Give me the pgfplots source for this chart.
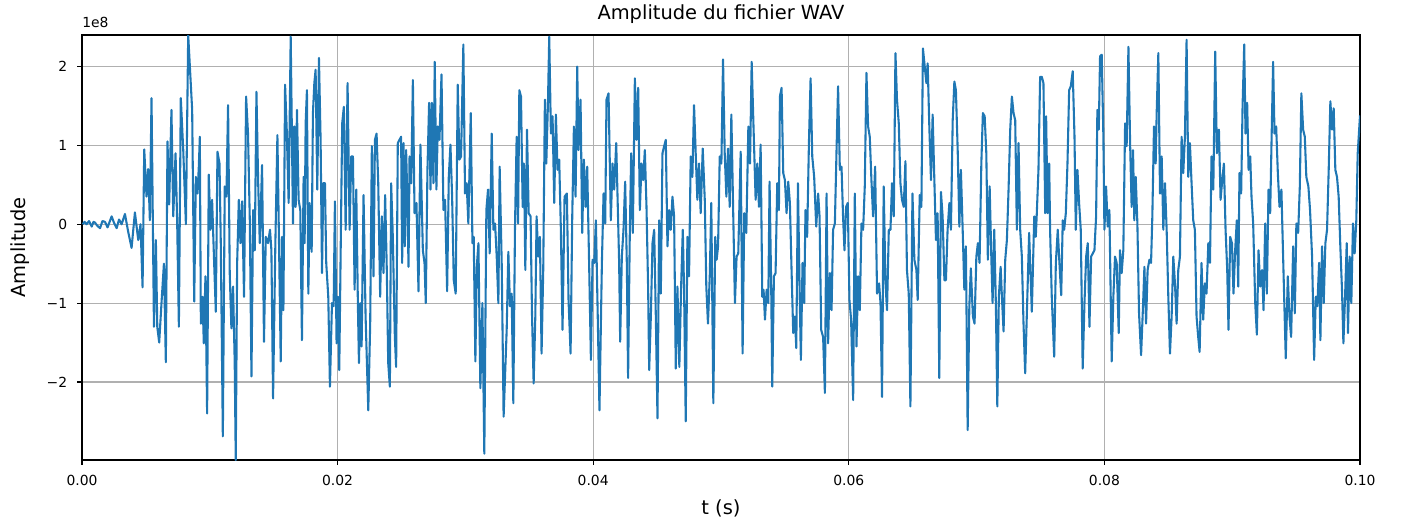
\documentclass[border=0pt]{standalone}
\usepackage{fontspec}
\setmainfont{DejaVu Sans}
\usepackage{pgfplots}
\pgfplotsset{compat=1.18}
\definecolor{mplblue}{HTML}{1F77B4}
\definecolor{mplgrid}{HTML}{B0B0B0}

\begin{document}
\begin{tikzpicture}
\begin{axis}[
  scale only axis, width=920.16pt, height=306pt,
  xmin=0, xmax=0.1, ymin=-2.99, ymax=2.40,
  xtick={0,0.02,0.04,0.06,0.08,0.1},
  xticklabels={0.00,0.02,0.04,0.06,0.08,0.10},
  ytick={-2,-1,0,1,2},
  yticklabels={−2,−1,0,1,2},
  tick pos=left, tick align=outside, major tick length=3.5pt,
  tick style={black, line width=0.8pt},
  axis line style={line width=0.8pt},
  grid=major, major grid style={mplgrid, line width=0.8pt},
  font=\fontsize{10}{12}\selectfont,
  xticklabel style={anchor=north, inner sep=0pt, yshift=-7pt},
  yticklabel style={anchor=east, inner sep=0pt, xshift=-7pt},
  xlabel={t (s)},
  xlabel style={at={(axis description cs:0.5,-0.1129)}, anchor=center, inner sep=0pt, font=\fontsize{14}{16}\selectfont},
  ylabel={Amplitude},
  ylabel style={at={(axis description cs:-0.0485,0.5)}, anchor=center, inner sep=0pt, font=\fontsize{14}{16}\selectfont},
]
\addplot[mplblue, line width=1.5pt, line join=round, mark=none] table {
t a
0.00005 0.00
0.00020 0.03
0.00036 0.00
0.00055 0.04
0.00076 -0.03
0.00090 0.03
0.00102 0.02
0.00120 -0.02
0.00141 -0.05
0.00160 0.04
0.00180 0.03
0.00200 -0.04
0.00232 0.10
0.00250 0.02
0.00271 -0.05
0.00290 0.06
0.00310 0.00
0.00336 0.13
0.00362 -0.10
0.00388 -0.30
0.00414 0.15
0.00440 -0.20
0.00458 0.00
0.00474 -0.80
0.00487 0.95
0.00505 0.35
0.00518 0.70
0.00531 0.05
0.00544 1.60
0.00563 -1.30
0.00578 -0.20
0.00589 -1.30
0.00604 -1.50
0.00622 -1.00
0.00641 -0.50
0.00656 -1.75
0.00669 1.05
0.00682 0.25
0.00700 1.45
0.00714 0.10
0.00732 0.90
0.00745 0.00
0.00758 -1.30
0.00773 1.60
0.00792 0.95
0.00813 0.00
0.00831 2.40
0.00862 1.45
0.00878 -0.98
0.00891 0.60
0.00904 0.39
0.00914 0.73
0.00922 1.11
0.00930 -1.26
0.00943 -0.92
0.00953 -1.51
0.00966 -0.66
0.00979 -2.40
0.00992 0.63
0.01005 -0.07
0.01018 0.31
0.01034 -0.49
0.01047 -1.11
0.01060 0.92
0.01076 0.77
0.01086 -0.24
0.01102 -2.69
0.01117 0.48
0.01130 0.35
0.01143 1.51
0.01156 -0.62
0.01169 -1.32
0.01182 -0.79
0.01195 -1.76
0.01203 -2.99
0.01214 -0.49
0.01227 0.31
0.01240 -0.24
0.01253 0.29
0.01268 -0.92
0.01284 1.62
0.01299 1.15
0.01313 0.05
0.01326 -1.93
0.01339 0.18
0.01352 -0.33
0.01365 1.68
0.01378 0.56
0.01391 -0.24
0.01409 0.75
0.01424 -1.49
0.01438 -0.16
0.01456 -0.24
0.01471 -0.07
0.01482 -0.33
0.01495 -2.21
0.01513 -0.24
0.01529 1.13
0.01542 -0.28
0.01555 -1.74
0.01565 -0.16
0.01576 -1.09
0.01589 1.77
0.01602 1.20
0.01617 0.27
0.01633 2.38
0.01651 0.01
0.01661 1.24
0.01672 0.22
0.01682 1.45
0.01695 0.31
0.01708 0.18
0.01721 -1.47
0.01734 0.60
0.01742 -0.24
0.01750 1.28
0.01760 1.70
0.01771 -0.88
0.01781 0.27
0.01797 -0.35
0.01807 1.41
0.01818 1.79
0.01828 1.96
0.01841 0.44
0.01854 2.11
0.01867 1.07
0.01878 -0.62
0.01888 0.52
0.01901 0.52
0.01911 -0.49
0.01927 -0.92
0.01940 -2.06
0.01956 -1.00
0.01969 -1.04
0.01979 0.29
0.01992 -1.51
0.02003 -0.92
0.02013 -1.85
0.02026 -0.07
0.02036 1.28
0.02049 1.49
0.02063 -0.07
0.02078 1.79
0.02094 -0.07
0.02107 0.86
0.02120 0.86
0.02133 -0.83
0.02146 0.44
0.02159 -1.04
0.02167 -1.76
0.02177 -1.00
0.02188 -1.55
0.02203 0.37
0.02219 -1.17
0.02240 -2.36
0.02255 -1.26
0.02268 0.99
0.02281 -0.66
0.02292 1.07
0.02305 1.15
0.02318 0.52
0.02333 -0.92
0.02346 0.10
0.02359 -0.62
0.02372 0.37
0.02385 -0.58
0.02396 -1.76
0.02409 -2.06
0.02419 0.52
0.02432 -0.16
0.02448 -1.43
0.02458 -1.81
0.02471 1.03
0.02497 1.11
0.02505 -0.49
0.02516 1.03
0.02526 -0.28
0.02536 0.94
0.02544 0.44
0.02555 -0.54
0.02563 0.86
0.02576 0.52
0.02589 1.83
0.02602 0.14
0.02617 0.27
0.02633 -0.85
0.02648 1.01
0.02667 -0.33
0.02680 -0.49
0.02690 -1.00
0.02703 0.69
0.02716 1.54
0.02727 0.44
0.02737 1.54
0.02750 0.52
0.02760 2.06
0.02773 0.44
0.02784 1.24
0.02797 1.07
0.02813 1.90
0.02828 0.18
0.02841 0.31
0.02857 -0.85
0.02870 0.60
0.02883 1.01
0.02896 0.35
0.02909 -0.71
0.02924 -0.88
0.02940 1.77
0.02953 0.82
0.02966 0.86
0.02984 2.28
0.02997 0.39
0.03010 0.52
0.03023 0.01
0.03042 1.41
0.03055 -0.24
0.03065 -0.16
0.03078 -1.74
0.03089 -0.54
0.03102 -0.24
0.03117 -2.08
0.03133 -1.00
0.03148 -2.91
0.03164 0.18
0.03177 0.44
0.03190 -0.37
0.03206 1.15
0.03219 -0.07
0.03232 0.01
0.03245 -0.41
0.03258 -1.00
0.03268 0.73
0.03284 -0.49
0.03299 -2.44
0.03323 -1.34
0.03336 -0.35
0.03349 -1.04
0.03362 -0.88
0.03375 -2.27
0.03388 -0.03
0.03401 1.11
0.03412 0.01
0.03422 1.70
0.03435 1.62
0.03448 0.22
0.03458 0.77
0.03469 -0.58
0.03482 1.20
0.03495 0.14
0.03510 0.10
0.03521 -1.13
0.03534 -2.02
0.03547 -1.17
0.03557 0.10
0.03570 -0.41
0.03583 -0.16
0.03596 -1.64
0.03609 -0.58
0.03622 1.58
0.03633 0.77
0.03646 1.54
0.03656 2.38
0.03669 1.15
0.03682 1.37
0.03695 0.27
0.03708 1.39
0.03721 0.69
0.03734 0.82
0.03747 -0.07
0.03760 -1.34
0.03776 0.35
0.03794 0.39
0.03807 -0.96
0.03823 -1.64
0.03836 0.10
0.03849 1.24
0.03862 0.35
0.03875 2.00
0.03885 0.94
0.03901 1.58
0.03914 -0.11
0.03927 0.82
0.03940 0.22
0.03953 0.73
0.03969 -0.58
0.03982 -1.72
0.03995 -0.45
0.04008 -0.49
0.04021 0.05
0.04036 -1.21
0.04049 -2.36
0.04068 -0.49
0.04081 0.39
0.04094 0.01
0.04104 1.58
0.04120 1.66
0.04138 0.05
0.04151 0.77
0.04164 0.44
0.04180 1.03
0.04193 0.18
0.04203 -0.49
0.04211 -1.49
0.04224 -0.41
0.04237 -0.07
0.04250 0.54
0.04263 -0.49
0.04273 -1.95
0.04286 -0.16
0.04297 0.90
0.04310 -0.11
0.04326 1.85
0.04339 1.07
0.04352 1.73
0.04365 0.18
0.04378 0.77
0.04391 0.56
0.04404 0.94
0.04417 0.22
0.04430 -0.83
0.04438 -1.85
0.04451 -1.17
0.04464 -0.24
0.04477 -0.07
0.04490 -1.17
0.04503 -2.46
0.04516 0.05
0.04529 -0.88
0.04542 0.90
0.04555 0.99
0.04568 1.07
0.04581 -0.28
0.04594 0.18
0.04607 -0.07
0.04620 0.35
0.04633 0.10
0.04646 -1.83
0.04659 -0.79
0.04674 -1.81
0.04688 -0.79
0.04701 -0.07
0.04711 -0.83
0.04724 -2.50
0.04737 -0.16
0.04750 -0.66
0.04763 0.86
0.04776 0.60
0.04789 1.51
0.04802 0.90
0.04815 0.31
0.04828 0.77
0.04841 0.14
0.04857 0.96
0.04873 0.31
0.04885 -0.79
0.04898 -1.26
0.04912 -0.66
0.04924 0.27
0.04940 -2.27
0.04955 -0.16
0.04966 -0.45
0.04977 -0.28
0.04990 0.86
0.05003 0.77
0.05016 2.09
0.05029 0.90
0.05042 0.35
0.05055 0.96
0.05068 0.22
0.05081 1.39
0.05094 0.27
0.05109 -1.00
0.05122 -0.41
0.05135 -0.37
0.05154 0.92
0.05169 -1.64
0.05182 0.14
0.05198 -0.11
0.05214 1.24
0.05227 0.77
0.05240 2.06
0.05255 1.20
0.05271 0.31
0.05284 0.77
0.05297 0.22
0.05310 1.01
0.05323 -0.92
0.05333 -0.83
0.05344 -1.21
0.05357 -0.83
0.05370 -1.00
0.05380 0.54
0.05393 -0.83
0.05401 -2.06
0.05414 -0.66
0.05427 -0.62
0.05440 0.52
0.05453 0.18
0.05461 1.62
0.05474 1.73
0.05487 0.65
0.05500 0.56
0.05513 0.14
0.05526 0.54
0.05539 0.27
0.05552 -0.58
0.05565 -1.38
0.05578 -1.17
0.05589 -1.57
0.05602 0.52
0.05615 -0.83
0.05625 -1.72
0.05638 -0.49
0.05651 -1.00
0.05661 0.18
0.05674 -0.16
0.05688 1.03
0.05701 1.85
0.05714 0.86
0.05729 0.60
0.05745 -0.03
0.05760 0.39
0.05771 0.10
0.05784 -1.34
0.05799 -1.43
0.05813 -2.14
0.05826 0.39
0.05838 -1.51
0.05852 -0.62
0.05865 -1.09
0.05877 -0.07
0.05891 0.01
0.05904 0.94
0.05916 1.75
0.05930 0.69
0.05943 0.73
0.05955 0.10
0.05966 -0.33
0.05979 0.22
0.05992 0.27
0.06005 -0.96
0.06018 -1.21
0.06034 -2.23
0.06047 0.39
0.06060 -1.55
0.06073 -0.66
0.06086 -1.09
0.06099 0.01
0.06112 -0.07
0.06125 0.48
0.06138 1.92
0.06151 1.24
0.06164 1.11
0.06177 0.56
0.06190 0.10
0.06206 0.73
0.06221 -0.88
0.06237 -0.75
0.06248 -1.00
0.06260 -2.19
0.06273 0.48
0.06287 -0.75
0.06299 -1.09
0.06313 -0.07
0.06326 -0.07
0.06338 0.52
0.06352 0.10
0.06365 2.17
0.06377 1.58
0.06391 1.28
0.06404 0.52
0.06416 0.31
0.06430 0.22
0.06443 0.80
0.06455 -0.58
0.06469 -0.88
0.06482 -2.31
0.06498 0.39
0.06513 -0.45
0.06529 -0.58
0.06539 -0.96
0.06555 0.37
0.06568 0.22
0.06580 2.23
0.06607 1.79
0.06617 2.04
0.06630 1.24
0.06643 0.56
0.06656 1.39
0.06670 0.52
0.06682 -0.20
0.06695 0.14
0.06708 -1.95
0.06721 0.41
0.06734 0.10
0.06748 -0.71
0.06760 -0.71
0.06773 -0.07
0.06787 0.27
0.06799 -0.07
0.06813 1.32
0.06826 1.81
0.06838 1.70
0.06852 0.94
0.06865 -0.03
0.06877 0.69
0.06891 -0.07
0.06904 -0.83
0.06916 -0.28
0.06930 -2.61
0.06943 -1.04
0.06955 -0.56
0.06971 -1.17
0.06984 -1.26
0.06998 -0.41
0.07010 -0.24
0.07023 -0.49
0.07037 0.77
0.07049 1.41
0.07063 1.37
0.07076 0.90
0.07088 -0.45
0.07102 0.48
0.07115 -0.41
0.07125 -1.00
0.07138 -0.07
0.07151 -1.04
0.07162 -2.31
0.07174 -0.92
0.07188 -0.54
0.07198 -0.92
0.07211 -1.36
0.07224 -0.45
0.07237 -0.20
0.07250 0.44
0.07263 1.20
0.07276 1.62
0.07289 1.41
0.07302 1.32
0.07315 -0.07
0.07328 1.03
0.07341 -0.07
0.07354 -0.41
0.07367 -1.26
0.07380 -1.89
0.07411 -0.11
0.07432 -1.11
0.07451 0.10
0.07463 -0.16
0.07471 0.14
0.07484 0.69
0.07497 1.87
0.07510 1.87
0.07523 1.79
0.07537 0.14
0.07544 1.37
0.07555 0.14
0.07568 0.77
0.07575 -0.07
0.07588 -0.92
0.07607 -1.68
0.07620 -0.49
0.07635 -0.07
0.07648 -0.49
0.07662 -0.90
0.07674 0.05
0.07685 -0.07
0.07698 0.14
0.07711 0.77
0.07724 1.70
0.07737 1.75
0.07752 1.94
0.07766 1.11
0.07776 -0.07
0.07789 0.69
0.07802 0.27
0.07815 -0.07
0.07830 -1.83
0.07844 -1.00
0.07857 -0.41
0.07870 -0.24
0.07883 -1.30
0.07896 -0.41
0.07909 -0.37
0.07922 -0.33
0.07935 0.10
0.07945 1.45
0.07956 1.20
0.07966 2.13
0.07979 2.15
0.07992 1.11
0.08000 -0.07
0.08013 0.48
0.08026 -0.03
0.08039 0.18
0.08057 -1.74
0.08070 -0.92
0.08083 -0.41
0.08096 -0.49
0.08112 -1.38
0.08122 -0.33
0.08135 -0.62
0.08148 -0.33
0.08162 1.28
0.08174 0.99
0.08188 2.25
0.08201 1.03
0.08213 0.22
0.08224 0.94
0.08234 0.05
0.08245 0.60
0.08258 0.01
0.08271 -1.13
0.08287 -1.66
0.08302 -1.04
0.08313 -0.54
0.08326 -1.26
0.08338 -0.58
0.08352 -0.45
0.08365 -0.49
0.08375 0.10
0.08388 1.24
0.08401 0.77
0.08409 1.41
0.08422 2.17
0.08435 0.39
0.08448 0.86
0.08461 -0.07
0.08474 0.52
0.08487 -0.07
0.08500 -0.92
0.08513 -1.64
0.08526 -1.17
0.08539 -0.41
0.08552 -0.75
0.08565 -1.26
0.08578 -0.58
0.08591 -0.41
0.08604 1.11
0.08617 0.65
0.08630 1.11
0.08643 2.34
0.08656 0.60
0.08669 1.03
0.08682 0.52
0.08695 0.05
0.08708 -0.07
0.08721 -1.17
0.08734 -1.43
0.08745 -1.62
0.08760 -0.49
0.08773 -1.21
0.08786 -0.75
0.08799 -0.88
0.08813 -0.24
0.08826 -0.49
0.08838 0.86
0.08852 0.44
0.08867 2.19
0.08880 0.90
0.08896 1.20
0.08909 0.31
0.08922 0.56
0.08935 0.77
0.08948 -0.07
0.08961 -0.58
0.08971 -1.34
0.08984 -0.16
0.08998 -0.24
0.09010 -0.88
0.09023 -0.33
0.09036 0.05
0.09047 -0.79
0.09057 0.65
0.09070 0.39
0.09081 1.49
0.09094 2.28
0.09104 1.15
0.09117 1.54
0.09128 0.69
0.09141 0.86
0.09151 0.35
0.09164 0.01
0.09180 -1.00
0.09193 -1.40
0.09206 -0.33
0.09219 -0.79
0.09234 -0.58
0.09245 -1.09
0.09258 0.01
0.09271 -0.88
0.09284 0.44
0.09297 0.14
0.09310 1.24
0.09320 2.06
0.09331 1.15
0.09344 1.24
0.09357 0.65
0.09370 0.22
0.09385 0.44
0.09401 -0.58
0.09419 -1.70
0.09435 -0.66
0.09448 -1.17
0.09461 -1.43
0.09477 -0.28
0.09490 -1.13
0.09502 0.01
0.09516 -0.11
0.09529 0.48
0.09541 1.66
0.09555 1.20
0.09568 1.11
0.09580 0.60
0.09596 0.48
0.09609 0.18
0.09625 -0.41
0.09641 -1.72
0.09654 -0.92
0.09666 -1.04
0.09680 -0.49
0.09690 -1.47
0.09703 -0.28
0.09716 -1.00
0.09729 -0.24
0.09742 -0.07
0.09755 0.69
0.09768 1.56
0.09781 1.20
0.09794 1.47
0.09807 0.69
0.09820 0.60
0.09833 0.35
0.09846 -0.28
0.09859 -0.83
0.09870 -1.51
0.09883 -0.92
0.09896 -0.24
0.09906 -1.38
0.09919 -0.41
0.09932 -1.00
0.09945 0.01
0.09958 -0.37
0.09971 0.05
0.09982 0.90
0.10000 1.38
};
\coordinate (bl) at (rel axis cs:0,0);
\coordinate (tl) at (rel axis cs:0,1);
\coordinate (tc) at (rel axis cs:0.5,1);
\coordinate (tr) at (rel axis cs:1,1);
\end{axis}
\node[anchor=center, inner sep=0pt, font=\fontsize{14}{16}\selectfont] at ([yshift=15.1pt]tc) {Amplitude du fichier WAV};
\node[anchor=west, inner sep=0pt, font=\fontsize{10}{12}\selectfont] at ([yshift=9.4pt]tl) {1e8};
\pgfresetboundingbox
\path[use as bounding box] ([shift={(-59.04pt,-47.52pt)}]bl) rectangle ([shift={(29.52pt,25.2pt)}]tr);
\end{tikzpicture}
\end{document}
